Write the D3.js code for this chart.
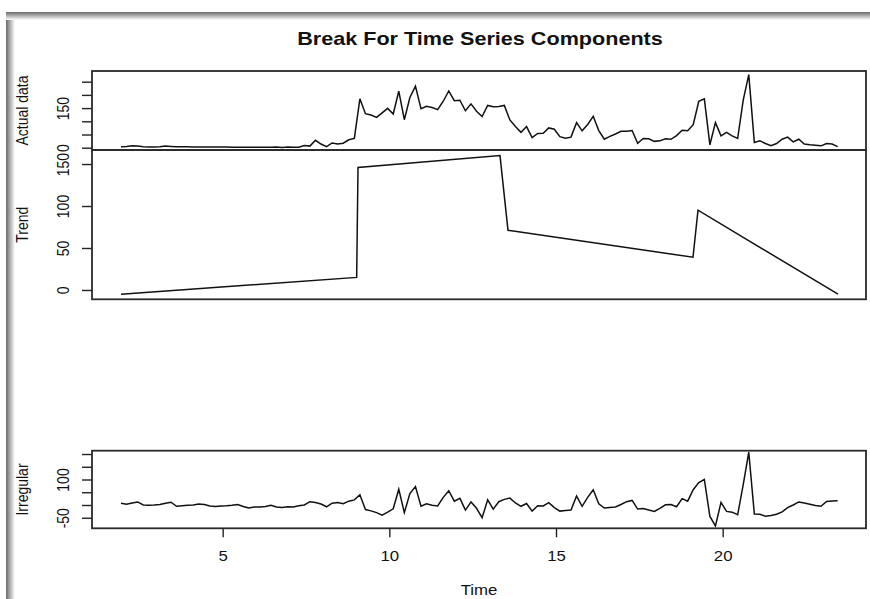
<!DOCTYPE html>
<html lang="en">
<head>
    <meta charset="UTF-8">
    <title>Break For Time Series Components</title>
    <script src="https://d3js.org/d3.v7.min.js"></script>
    <style>
        body {
            margin: 0;
            padding: 0;
            background: #ffffff;
        }
        svg text {
            font-family: "Liberation Sans", Arial, sans-serif;
            fill: #111;
        }
        .axis line {
            stroke: #222;
            stroke-width: 1.4px;
        }
        .panel-box {
            fill: none;
            stroke: #2a2a2a;
            stroke-width: 1.8px;
        }
        .series {
            fill: none;
            stroke: #111;
            stroke-width: 1.5px;
        }
    </style>
</head>
<body>
    <svg id="chart"></svg>

    <script>
        // ---- data ----
        // series start and frequency, like an R ts object
        const start = 1.95;
        const freq = 6;

        const actual = [
            4, 5, 7, 6, 4, 3, 3, 4, 6, 5,
            4, 4, 4, 3, 3, 3, 3, 3, 3, 3,
            2, 2, 2, 2, 2, 2, 2, 2, 3, 1,
            3, 2, 2, 8, 6, 28, 14, 4, 18, 14,
            17, 30, 35, 185, 129, 124, 115, 132, 149, 128,
            214, 106, 190, 233, 148, 157, 152, 144, 176, 215,
            178, 180, 140, 166, 138, 118, 160, 155, 156, 160,
            105, 80, 58, 80, 38, 54, 55, 75, 70, 42,
            36, 40, 95, 64, 88, 119, 65, 32, 43, 52,
            62, 62, 65, 17, 35, 34, 24, 26, 34, 32,
            46, 66, 64, 87, 176, 185, 11, 95, 45, 58,
            45, 35, 180, 277, 20, 26, 16, 8, 16, 32,
            40, 22, 32, 14, 11, 9, 7, 16, 14, 4
        ];

        const irregular = [
            7, 3, 8, 12, 0, -1, 0, 2, 7, 11,
            -5, -3, -1, 0, 4, 2, -4, -6, -4, -3,
            -1, 2, -6, -12, -8, -8, -6, -1, -8, -10,
            -7, -8, -3, 0, 13, 10, 4, -7, 7, 10,
            5, 15, 20, 40, -18, -23, -30, -40, -28, -15,
            62, -30, 45, 72, -5, 5, -1, -4, 30, 56,
            15, 26, -20, 12, -13, -50, 20, -16, 13, 22,
            27, 8, -5, 6, -24, -3, -4, 9, -10, -24,
            -22, -20, 35, -5, 30, 60, 5, -12, -10, -8,
            2, 13, 18, -16, -14, -20, -25, -13, 1, 2,
            -7, 25, 15, 60, 88, 100, -45, -82, 10, -25,
            -28, -38, 80, 207, -35, -36, -44, -41, -36, -27,
            -10, 0, 12, 8, 3, -2, -5, 14, 16, 17
        ];

        // trend is piecewise linear with breaks
        const trendTimes = [1.95, 9.02, 9.06, 13.32, 13.56, 19.11, 19.26, 23.46];
        const trendValues = [-5, 15, 146, 160, 71, 39, 95, -5];

        // axis ticks and which of them get a label
        const actualTicks = [0, 50, 100, 150, 200, 250];
        const actualLabels = [0, 150];
        const trendTicks = [0, 50, 100, 150];
        const trendLabels = [0, 50, 100, 150];
        const irregularTicks = [-50, 0, 50, 100, 150, 200];
        const irregularLabels = [-50, 100];
        const timeTicks = [5, 10, 15, 20];

        const times = actual.map((d, i) => start + i / freq);

        // ---- layout ----
        const W = 870, H = 599;
        const left = 92, right = 866;
        const stretch = 1.2; // text in the picture is a bit wide

        const svg = d3.select("#chart")
            .attr("width", W)
            .attr("height", H);

        // window shadow on the left and top of the screenshot
        const defs = svg.append("defs");
        const gl = defs.append("linearGradient").attr("id", "shadeL")
            .attr("x1", 0).attr("x2", 1).attr("y1", 0).attr("y2", 0);
        gl.append("stop").attr("offset", "0%").attr("stop-color", "#6a6a6a");
        gl.append("stop").attr("offset", "100%").attr("stop-color", "#ffffff");
        const gt = defs.append("linearGradient").attr("id", "shadeT")
            .attr("x1", 0).attr("x2", 0).attr("y1", 0).attr("y2", 1);
        gt.append("stop").attr("offset", "0%").attr("stop-color", "#6a6a6a");
        gt.append("stop").attr("offset", "100%").attr("stop-color", "#ffffff");

        svg.append("rect").attr("x", 6).attr("y", 12).attr("width", 9).attr("height", H - 12)
            .attr("fill", "url(#shadeL)");
        svg.append("rect").attr("x", 6).attr("y", 12).attr("width", W - 6).attr("height", 8)
            .attr("fill", "url(#shadeT)");

        // x scale shared by the panels
        const x = d3.scaleLinear().domain([1.08, 24.3]).range([left, right]);

        // panels: top, bottom in px, value domain
        const panels = [
            { name: "Actual data", top: 71, bottom: 150, domain: [-8.7, 290.5],
              ticks: actualTicks, labels: actualLabels },
            { name: "Trend", top: 150, bottom: 299.3, domain: [-11.1, 166.7],
              ticks: trendTicks, labels: trendLabels },
            { name: "Irregular", top: 450.7, bottom: 528.3, domain: [-91.4, 213],
              ticks: irregularTicks, labels: irregularLabels }
        ];
        panels.forEach(p => {
            p.y = d3.scaleLinear().domain(p.domain).range([p.bottom, p.top]);
        });

        // draw the line for each panel
        const series = [
            { panel: panels[0], t: times, v: actual },
            { panel: panels[1], t: trendTimes, v: trendValues },
            { panel: panels[2], t: times, v: irregular }
        ];

        series.forEach(s => {
            const line = d3.line()
                .x((d, i) => x(s.t[i]))
                .y(d => s.panel.y(d));
            svg.append("path")
                .attr("class", "series")
                .attr("d", line(s.v));
        });

        // y axes, labels turned to read upwards like base R
        panels.forEach(p => {
            const g = svg.append("g")
                .attr("class", "axis")
                .attr("transform", `translate(${left},0)`)
                .call(d3.axisLeft(p.y)
                    .tickValues(p.ticks)
                    .tickSize(10)
                    .tickSizeOuter(0)
                    .tickFormat(d => p.labels.includes(d) ? d : ""));
            g.select(".domain").remove();
            g.selectAll("text")
                .attr("x", 0)
                .attr("y", 0)
                .attr("dy", "0.35em")
                .attr("text-anchor", "middle")
                .style("font-size", "14px")
                .attr("transform", `translate(-29,0) scale(${stretch},1) rotate(-90)`);

            // axis title
            svg.append("text")
                .attr("transform", `translate(22,${(p.top + p.bottom) / 2}) scale(${stretch},1) rotate(-90)`)
                .attr("dy", "0.35em")
                .attr("text-anchor", "middle")
                .style("font-size", "14px")
                .text(p.name);
        });

        // boxes round each panel
        panels.forEach(p => {
            svg.append("rect")
                .attr("class", "panel-box")
                .attr("x", left)
                .attr("y", p.top)
                .attr("width", right - left)
                .attr("height", p.bottom - p.top);
        });

        // time axis under the irregular panel
        const xg = svg.append("g")
            .attr("class", "axis")
            .attr("transform", `translate(0,${panels[2].bottom})`)
            .call(d3.axisBottom(x).tickValues(timeTicks).tickSize(9).tickSizeOuter(0));
        xg.select(".domain").remove();
        xg.selectAll("text")
            .attr("y", 0)
            .attr("dy", 0)
            .style("font-size", "14px")
            .attr("transform", `translate(0,33) scale(${stretch},1)`);

        svg.append("text")
            .attr("transform", `translate(${(left + right) / 2},595) scale(${stretch},1)`)
            .attr("text-anchor", "middle")
            .style("font-size", "14px")
            .text("Time");

        // title
        svg.append("text")
            .attr("transform", `translate(480,45) scale(${stretch},1)`)
            .attr("text-anchor", "middle")
            .style("font-size", "18px")
            .style("font-weight", "bold")
            .text("Break For Time Series Components");
    </script>
</body>
</html>
